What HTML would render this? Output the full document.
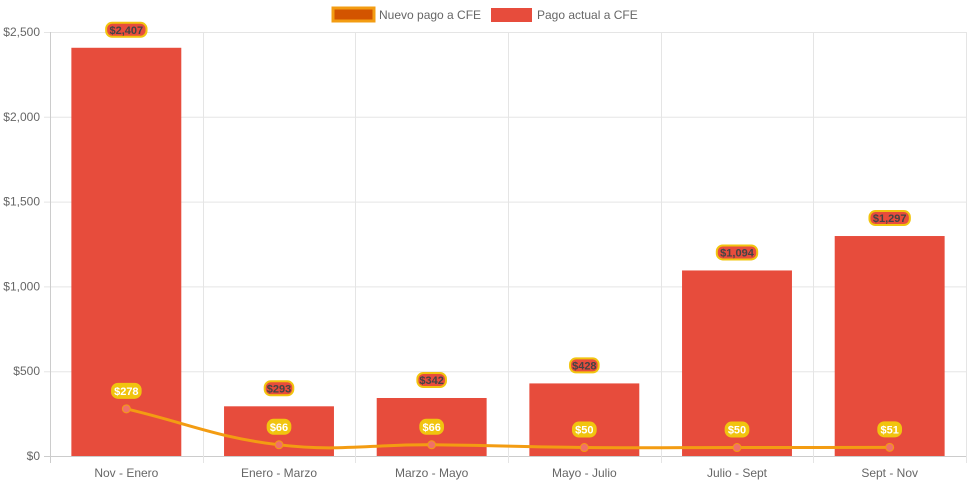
<!DOCTYPE html>
<html><head><meta charset="utf-8"><style>
html,body{margin:0;padding:0;background:#fff;}
svg{display:block;font-family:"Liberation Sans",Arial,sans-serif;}
</style></head><body>
<svg id="chart" width="971" height="485" xmlns="http://www.w3.org/2000/svg">
<g id="legend">
<g>
<rect x="333" y="8" width="41" height="13" fill="#d35400" stroke="#f39c12" stroke-width="3"/>
<text x="379" y="19" font-size="12" fill="#666">Nuevo pago a CFE</text></g>
<g>
<rect x="491" y="8" width="41" height="14" fill="#e74c3c"/>
<text x="537" y="19" font-size="12" fill="#666">Pago actual a CFE</text></g>
</g>
<g id="grid"></g>
<g id="bars"></g>
<g id="line"></g>
<g id="labels"></g>
</svg>
<script>
const categories = ["Nov - Enero","Enero - Marzo","Marzo - Mayo","Mayo - Julio","Julio - Sept","Sept - Nov"];
const actualValues = [2407,293,342,428,1094,1297];
const nuevoValues = [278,66,66,50,50,51];
const yTicks = [0,500,1000,1500,2000,2500];
const yTickLabels = ["$0","$500","$1,000","$1,500","$2,000","$2,500"];

const NS="http://www.w3.org/2000/svg";
const L=50,R=966,T=32,B=456,yMax=2500;
const cw=(R-L)/categories.length;
const x=i=>L+cw*(i+0.5);
const y=v=>B-(v/yMax)*(B-T);
function mk(tag,attrs,parent,txt){const e=document.createElementNS(NS,tag);for(const k in attrs)e.setAttribute(k,attrs[k]);if(txt!==undefined)e.textContent=txt;parent.appendChild(e);return e;}
const fmt=v=>"$"+v.toLocaleString("en-US");
const grid=document.getElementById("grid");
yTicks.forEach((t,i)=>{
  const g=mk("line",{x1:44,x2:R,y1:y(t)+0.5,y2:y(t)+0.5,stroke:i===0?"#ccc":"#e5e5e5","stroke-width":1},grid);
  
  
  const tx=mk("text",{x:40,y:y(t)+4,"text-anchor":"end","font-size":12,fill:"#666"},grid,yTickLabels[i]);
  
  
});
for(let i=0;i<=categories.length;i++){
  const xx=Math.round(L+cw*i)+0.5;
  const g=mk("line",{x1:xx,x2:xx,y1:T,y2:B+7,stroke:i===0?"#ccc":"#e5e5e5","stroke-width":1},grid);
  
  
}
categories.forEach((c,i)=>{
  const tx=mk("text",{x:x(i),y:477,"text-anchor":"middle","font-size":12,fill:"#666"},grid,c);
  
  
});
const bars=document.getElementById("bars");
const bw=cw*0.72;
actualValues.forEach((v,i)=>{
  const r=mk("rect",{x:x(i)-bw/2,y:y(v),width:bw,height:B-y(v),fill:"#e74c3c"},bars);
  
  
});
const pts=nuevoValues.map((v,i)=>[x(i),y(v)]);
const t=0.4;let d="M"+pts[0][0]+","+pts[0][1];
const cps=pts.map((p,i)=>{
  const prev=pts[i-1]||p,next=pts[i+1]||p;
  const d01=Math.hypot(p[0]-prev[0],p[1]-prev[1]),d12=Math.hypot(next[0]-p[0],next[1]-p[1]);
  let fa=d01/(d01+d12)||0,fb=d12/(d01+d12)||0;fa*=t;fb*=t;
  return {p:[p[0]-fa*(next[0]-prev[0]),p[1]-fa*(next[1]-prev[1])],n:[p[0]+fb*(next[0]-prev[0]),p[1]+fb*(next[1]-prev[1])]};
});
for(let i=1;i<pts.length;i++){d+=" C"+cps[i-1].n.join(",")+" "+cps[i].p.join(",")+" "+pts[i].join(",");}
const lg=document.getElementById("line");
const path=mk("path",{d:d,fill:"none",stroke:"#f39c12","stroke-width":3},lg);


pts.forEach((p,i)=>{
  const c=mk("circle",{cx:p[0],cy:p[1],r:4,fill:"#f0706a",stroke:"#f39c12","stroke-width":1},lg);
  
  
});
const lab=document.getElementById("labels");
function label(cx,cy,txt,bg,border,color,name){
  const w=txt.length*5.9+5;
  const g=mk("g",{},lab);
  
  
  mk("rect",{x:cx-w/2,y:cy-7,width:w,height:14,rx:6,fill:bg,stroke:border,"stroke-width":2},g);
  mk("text",{x:cx,y:cy+4,"text-anchor":"middle","font-size":11,"font-weight":"bold",fill:color},g,txt);
}
actualValues.forEach((v,i)=>label(x(i),y(v)-18,fmt(v),"#e74c3c","#f1c40f","#444","bar-label-"+i));
nuevoValues.forEach((v,i)=>label(x(i),y(v)-18,fmt(v),"#f1c40f","#f1c40f","#fff","point-label-"+i));
</script>
</body></html>
